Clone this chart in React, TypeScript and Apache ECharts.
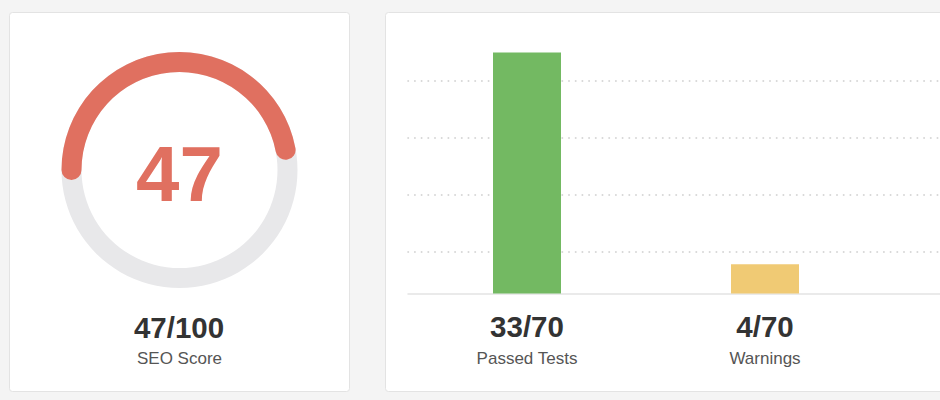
import React, { useEffect, useRef } from "react";
import * as echarts from "echarts";

// ---- data ----
const scoreValue = 47;
const scoreMax = 100;
const scoreTitle = "SEO Score";

const testCategories = ["Passed Tests", "Warnings", ""];
const testValues: (number | null)[] = [33, 4, null];
const testTotal = 70;
const barColors = ["#73b962", "#f0ca74", "#e07060"];

const FONT = "'Liberation Sans', Arial, Helvetica, sans-serif";

export default function App() {
  const ref = useRef<HTMLDivElement>(null);

  useEffect(() => {
    if (!ref.current) return;
    const chart = echarts.init(ref.current, undefined, { renderer: "svg" });

    const option: any = {
      animation: false,
      backgroundColor: "#f4f4f4",
      textStyle: { fontFamily: FONT },
      graphic: [
        {
          type: "rect",
          z: -5,
          shape: { x: 9.5, y: 12.5, width: 340, height: 379, r: 3 },
          style: { fill: "#ffffff", stroke: "#e3e3e3", lineWidth: 1 },
        },
        {
          type: "rect",
          z: -5,
          shape: { x: 385.5, y: 12.5, width: 620, height: 379, r: 3 },
          style: { fill: "#ffffff", stroke: "#e3e3e3", lineWidth: 1 },
        },
        {
          type: "text",
          z: 10,
          x: 179,
          y: 327,
          style: {
            text: `${scoreValue}/${scoreMax}`,
            fill: "#333333",
            font: `bold 29.5px ${FONT}`,
            textAlign: "center",
            textVerticalAlign: "middle",
          },
        },
      ],
      grid: { left: 408, top: 24, bottom: 91, width: 714, outerBoundsMode: "none", containLabel: false },
      xAxis: {
        type: "category",
        data: testCategories,
        axisLine: { onZero: true, onZeroAxisIndex: 0, lineStyle: { color: "#e3e3e3", width: 1.5 } },
        axisTick: { show: false },
        axisLabel: {
          margin: 0,
          interval: 0,
          formatter: (v: string, i: number) =>
            testValues[i] == null ? "" : `{v|${testValues[i]}/${testTotal}}\n{n|${v}}`,
          rich: {
            v: { fontSize: 29.5, fontWeight: "bold", color: "#333333", lineHeight: 34, fontFamily: FONT },
            n: { fontSize: 17, color: "#555555", lineHeight: 30, fontFamily: FONT },
          },
        },
      },
      yAxis: [
        {
          type: "value",
          min: -2.123,
          max: 36.92,
          show: false,
          splitLine: { show: false },
        },
        {
          type: "value",
          min: 0,
          max: 5,
          interval: 1,
          position: "left",
          axisLine: { show: false },
          axisTick: { show: false },
          axisLabel: { show: false },
          splitLine: {
            show: true,
            showMinLine: false,
            showMaxLine: false,
            lineStyle: { color: "#cbcbcb", width: 1.6, type: [0.4, 6.3], cap: "round" },
          },
        },
      ],
      series: [
        {
          type: "gauge",
          center: [179.5, 170],
          radius: 118,
          startAngle: 180,
          endAngle: -180,
          min: 0,
          max: scoreMax,
          pointer: { show: false },
          anchor: { show: false },
          axisTick: { show: false },
          splitLine: { show: false },
          axisLabel: { show: false },
          axisLine: { roundCap: false, lineStyle: { width: 20, color: [[1, "#e8e8ea"]] } },
          progress: { show: true, width: 20, roundCap: true, itemStyle: { color: "#e07060" } },
          title: {
            offsetCenter: [0, 188],
            fontSize: 17,
            color: "#555555",
            fontFamily: FONT,
          },
          detail: {
            offsetCenter: [0, 4],
            fontSize: 78,
            fontWeight: "bold",
            color: "#e07060",
            fontFamily: FONT,
            formatter: "{value}",
          },
          data: [{ value: scoreValue, name: scoreTitle }],
        },
        {
          type: "bar",
          xAxisIndex: 0,
          yAxisIndex: 0,
          barWidth: 68,
          data: testValues.map((v, i) => ({ value: v, itemStyle: { color: barColors[i] } })),
          z: 3,
        },
      ],
    };

    chart.setOption(option);
    return () => chart.dispose();
  }, []);

  return (
    <div
      ref={ref}
      style={{ position: "fixed", left: 0, top: 0, width: 940, height: 400 }}
    />
  );
}
